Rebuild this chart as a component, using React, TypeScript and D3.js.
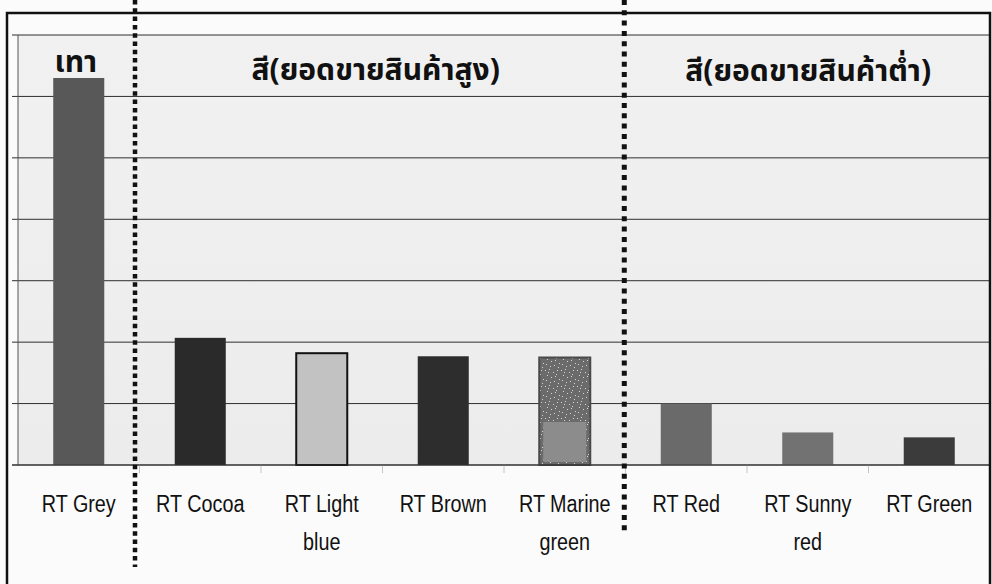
import React from "react";
import * as d3 from "d3";

// Sales by colour: one bar per product colour, grouped into three bands.
const categories: string[][] = [
  ["RT Grey"],
  ["RT Cocoa"],
  ["RT Light", "blue"],
  ["RT Brown"],
  ["RT Marine", "green"],
  ["RT Red"],
  ["RT Sunny", "red"],
  ["RT Green"],
];
const values: number[] = [6.3, 2.07, 1.82, 1.77, 1.75, 1.0, 0.53, 0.45];
const barFills: string[] = ["#585858", "#2a2a2a", "#c2c2c2", "#2d2d2d", "marine", "#6a6a6a", "#727272", "#3b3b3b"];
const yTicks: number[] = [0, 1, 2, 3, 4, 5, 6, 7];

// Group headers and the category positions of the dotted dividers
const groupLabels: string[] = ["เทา", "สี(ยอดขายสินค้าสูง)", "สี(ยอดขายสินค้าต่ำ)"];
const dividerAt: number[] = [0.963, 4.99];

const W = 992;
const H = 584;
const plot = { left: 18, right: 990, top: 35, bottom: 465 };

const thaiFont = "'Noto Sans Thai', Tahoma, Loma, Garuda, 'Noto Sans', sans-serif";
const labelFont = "'Liberation Sans', Arial, sans-serif";

// fixed speckle layout for the textured bar
const speckles: [number, number][] = [
  [1, 2], [5, 1], [9, 4], [13, 2], [3, 7], [7, 9], [11, 8], [15, 11], [2, 12], [6, 14], [10, 13], [14, 15], [4, 4], [12, 6],
];

export default function App() {
  const x = d3
    .scaleBand<number>()
    .domain(d3.range(categories.length))
    .range([plot.left, plot.right])
    .paddingInner(0)
    .paddingOuter(0);
  const y = d3.scaleLinear().domain([0, 7]).range([plot.bottom, plot.top]);
  const step = x.step();
  const bw = step * 0.42;
  const catX = (c: number) => plot.left + c * step;

  const dividerX = dividerAt.map(catX);
  const headerX = [
    (x(0) as number) + step / 2 - 3,
    (dividerX[0] + dividerX[1]) / 2 - 4,
    (dividerX[1] + plot.right) / 2 + 1,
  ];
  const headerY = [72, 80, 81];

  return (
    <svg width={W} height={H} style={{ position: "absolute", left: 0, top: 0, background: "#fbfbfb" }}>
      <defs>
        <pattern id="speckle" width="16" height="16" patternUnits="userSpaceOnUse">
          <rect width="16" height="16" fill="#6b6b6b" />
          {speckles.map(([sx, sy], i) => (
            <rect key={i} x={sx} y={sy} width="1" height="1" fill="#e8e8e8" opacity="0.85" />
          ))}
        </pattern>
        <linearGradient id="plotBg" x1="0" y1="0" x2="0" y2="1">
          <stop offset="0" stopColor="#f1f1f1" />
          <stop offset="1" stopColor="#ececec" />
        </linearGradient>
      </defs>

      {/* plot background */}
      <rect x={plot.left} y={plot.top} width={plot.right - plot.left} height={plot.bottom - plot.top} fill="url(#plotBg)" />

      {/* gridlines and left axis ticks */}
      {yTicks.map((t) => (
        <line key={t} x1={plot.left - 6} x2={plot.right} y1={y(t)} y2={y(t)} stroke="#2e2e2e" strokeWidth={1} />
      ))}
      <line x1={plot.left} x2={plot.left} y1={plot.top} y2={plot.bottom} stroke="#555" strokeWidth={1} />

      {/* category ticks under the baseline */}
      {d3.range(1, categories.length).map((c) => (
        <line key={c} x1={catX(c)} x2={catX(c)} y1={plot.bottom} y2={plot.bottom + 8} stroke="#c4c4c4" strokeWidth={1} />
      ))}

      {/* bars */}
      {values.map((v, i) => {
        const bx = (x(i) as number) + (step - bw) / 2;
        const top = y(v);
        const h = plot.bottom - top;
        if (barFills[i] === "marine") {
          const lowTop = y(v * 0.4);
          return (
            <g key={i}>
              <rect x={bx} y={top} width={bw} height={h} fill="url(#speckle)" stroke="#4a4a4a" strokeWidth={2} />
              <rect x={bx + 4} y={lowTop} width={bw - 8} height={plot.bottom - lowTop - 3} fill="#8c8c8c" />
            </g>
          );
        }
        const outlined = barFills[i] === "#c2c2c2";
        return (
          <rect
            key={i}
            x={bx}
            y={top}
            width={bw}
            height={h}
            fill={barFills[i]}
            stroke={outlined ? "#111" : "none"}
            strokeWidth={outlined ? 2 : 0}
          />
        );
      })}

      {/* baseline */}
      <line x1={plot.left - 6} x2={plot.right} y1={plot.bottom} y2={plot.bottom} stroke="#333" strokeWidth={1.2} />

      {/* category labels, condensed */}
      {categories.map((lines, i) => (
        <g key={i} transform={`translate(${(x(i) as number) + step / 2},512) scale(0.86,1)`}>
          {lines.map((ln, j) => (
            <text key={j} x={0} y={j * 38} textAnchor="middle" fontFamily={labelFont} fontSize={23} fill="#111">
              {ln}
            </text>
          ))}
        </g>
      ))}

      {/* group headers */}
      {groupLabels.map((g, i) => (
        <text
          key={i}
          x={headerX[i]}
          y={headerY[i]}
          textAnchor="middle"
          fontFamily={thaiFont}
          fontWeight="bold"
          fontSize={30}
          fill="#111"
        >
          {g}
        </text>
      ))}

      {/* dotted dividers */}
      <line x1={dividerX[0]} x2={dividerX[0]} y1={0} y2={567} stroke="#111" strokeWidth={4.5} strokeDasharray="4.5 3.8" />
      <line x1={dividerX[1]} x2={dividerX[1]} y1={0} y2={534} stroke="#111" strokeWidth={5} strokeDasharray="5 5.3" />

      {/* outer frame */}
      <rect x={7} y={13} width={983} height={H + 10} fill="none" stroke="#111" strokeWidth={2.5} />
    </svg>
  );
}
